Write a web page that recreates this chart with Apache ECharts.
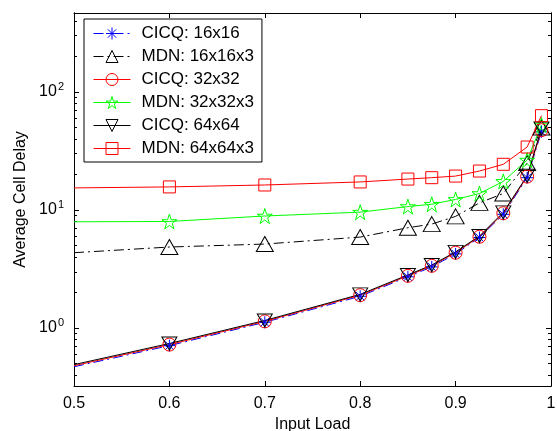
<!DOCTYPE html>
<html>
<head>
<meta charset="utf-8">
<script src="https://cdn.jsdelivr.net/npm/echarts@6/dist/echarts.min.js"></script>
<style>
  html, body { margin: 0; padding: 0; background: #fff; }
  #chart { width: 557px; height: 431px; }
</style>
</head>
<body>
<div id="chart"></div>
<script>
// Input load values (x) shared by every curve
const loads = [0.5, 0.6, 0.7, 0.8, 0.85, 0.875, 0.9, 0.925, 0.95, 0.975, 0.99];

// Average cell delay per switch configuration
const cicq16 = [0.47, 0.71, 1.12, 1.86, 2.72, 3.30, 4.25, 5.85, 9.2, 18.8, 46];
const mdn16  = [4.35, 4.86, 5.15, 5.9, 7.08, 7.6, 8.84, 11.5, 13.8, 25, 50];
const cicq32 = [0.48, 0.725, 1.14, 1.9, 2.77, 3.37, 4.35, 5.94, 9.4, 19.2, 47.5];
const mdn32  = [7.95, 8.0, 8.9, 9.6, 10.7, 11.2, 12.3, 13.8, 17.5, 26.5, 52.5];
const cicq64 = [0.49, 0.74, 1.16, 1.93, 2.82, 3.42, 4.42, 6.02, 9.55, 19.5, 49];
const mdn64  = [15.4, 15.7, 16.3, 17.3, 18.3, 18.8, 19.4, 21.4, 24.4, 34.2, 63];

const seriesNames = ['CICQ: 16x16', 'MDN: 16x16x3', 'CICQ: 32x32', 'MDN: 32x32x3', 'CICQ: 64x64', 'MDN: 64x64x3'];

// Tick values
const xTicks = [0.5, 0.6, 0.7, 0.8, 0.9, 1];
const yMajor = [1, 10, 100];
const yMinor = [0.4, 0.5, 0.6, 0.7, 0.8, 0.9, 2, 3, 4, 5, 6, 7, 8, 9, 20, 30, 40, 50, 60, 70, 80, 90, 200, 300, 400];

const FONT = '"Liberation Sans", Arial, sans-serif';

const SYM = {
  asterisk: 'path://M0,-1 L0,1 M-1,0 L1,0 M-0.7,-0.7 L0.7,0.7 M-0.7,0.7 L0.7,-0.7',
  triUp: 'path://M0,-1 L1,0.75 L-1,0.75 Z',
  triDown: 'path://M0,1 L1,-0.75 L-1,-0.75 Z',
  star: 'path://M0,-1 L0.2245,-0.309 L0.951,-0.309 L0.363,0.118 L0.588,0.809 L0,0.382 L-0.588,0.809 L-0.363,0.118 L-0.951,-0.309 L-0.2245,-0.309 Z',
  circle: 'circle',
  square: 'rect'
};

function makeSeries(name, values, color, symbol, size, dashed) {
  return {
    name: name,
    type: 'line',
    // the first point (load 0.5) carries no marker
    data: loads.map((x, i) => i === 0 ? { value: [x, values[i]], symbol: 'none' } : [x, values[i]]),
    symbol: symbol,
    symbolSize: size,
    smooth: false,
    lineStyle: { color: color, width: 1, type: dashed ? [10, 4, 2, 4] : 'solid' },
    itemStyle: { color: 'none', borderColor: color, borderWidth: 1 },
    emphasis: { disabled: true },
    animation: false
  };
}

const series = [
  makeSeries(seriesNames[0], cicq16, '#0000ff', SYM.asterisk, 12, true),
  makeSeries(seriesNames[1], mdn16, '#000000', SYM.triUp, [17, 15], true),
  makeSeries(seriesNames[2], cicq32, '#ff0000', SYM.circle, 13, false),
  makeSeries(seriesNames[3], mdn32, '#00ff00', SYM.star, 15, false),
  makeSeries(seriesNames[4], cicq64, '#000000', SYM.triDown, [15, 13], false),
  makeSeries(seriesNames[5], mdn64, '#ff0000', SYM.square, 12, false)
];

const yRange = { min: 0.323, max: 467 };

function logAxis(pos, values, len, showLabel) {
  return {
    type: 'log', logBase: 10, position: pos, min: yRange.min, max: yRange.max,
    axisLine: { show: true, lineStyle: { color: '#000', width: 1 } },
    axisTick: { show: true, inside: true, length: len, customValues: values, lineStyle: { color: '#000' } },
    axisLabel: showLabel ? {
      show: true, customValues: values, margin: 10,
      formatter: v => '{b|10}{s|' + Math.round(Math.log10(v)) + '}',
      rich: {
        b: { fontFamily: FONT, fontSize: 16, color: '#000' },
        s: { fontFamily: FONT, fontSize: 11, color: '#000', padding: [0, 0, 10, 1] }
      }
    } : { show: false },
    splitLine: { show: false }
  };
}

const yAxes = [
  Object.assign(logAxis('left', yMajor, 5, true), {
    name: 'Average Cell Delay', nameLocation: 'middle', nameGap: 44,
    nameTextStyle: { fontFamily: FONT, fontSize: 16, color: '#000' }
  }),
  logAxis('left', yMinor, 3, false),
  logAxis('right', yMajor, 5, false),
  logAxis('right', yMinor, 3, false)
];

function linAxis(pos, showLabel) {
  return {
    type: 'value', position: pos, min: 0.5, max: 1, interval: 0.1,
    axisLine: { show: true, lineStyle: { color: '#000', width: 1 } },
    axisTick: { show: true, inside: true, length: 5, lineStyle: { color: '#000' } },
    axisLabel: showLabel ? {
      show: true, margin: 10, fontFamily: FONT, fontSize: 16, color: '#000',
      formatter: v => {
        const t = xTicks.find(k => Math.abs(k - v) < 1e-9);
        return t === undefined ? '' : String(t);
      }
    } : { show: false },
    splitLine: { show: false }
  };
}

const option = {
  animation: false,
  backgroundColor: '#fff',
  grid: { left: 74, right: 6, top: 13, bottom: 45, containLabel: false, outerBoundsMode: 'none' },
  xAxis: [
    Object.assign(linAxis('bottom', true), {
      name: 'Input Load', nameLocation: 'middle', nameGap: 26,
      nameTextStyle: { fontFamily: FONT, fontSize: 16, color: '#000' }
    }),
    linAxis('top', false)
  ],
  yAxis: yAxes,
  legend: {
    data: seriesNames,
    orient: 'vertical',
    left: 84, top: 19,
    padding: [6, 8, 5, 9],
    itemWidth: 37, itemHeight: 15, itemGap: 6,
    backgroundColor: '#fff',
    borderColor: '#000', borderWidth: 1,
    lineStyle: { width: 1 },
    itemStyle: { borderWidth: 1 },
    textStyle: { fontFamily: FONT, fontSize: 17, color: '#000', padding: [0, 0, 0, 6] },
    selectedMode: false
  },
  series: series
};

const chart = echarts.init(document.getElementById('chart'), null, { renderer: 'canvas' });
chart.setOption(option);
</script>
</body>
</html>
